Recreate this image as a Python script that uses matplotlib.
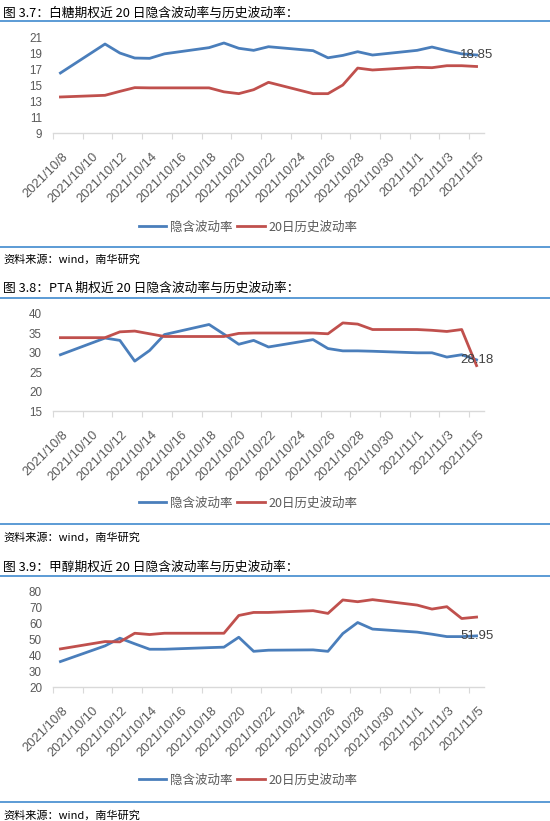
import matplotlib
matplotlib.use("Agg")
import matplotlib.pyplot as plt
import matplotlib.dates as mdates
import matplotlib.transforms as mtransforms
from matplotlib.lines import Line2D
import pandas as pd

plt.rcParams['font.family'] = ['Liberation Sans', 'Noto Sans CJK SC', 'DejaVu Sans']

dates = ["2021-10-08", "2021-10-11", "2021-10-12", "2021-10-13", "2021-10-14",
         "2021-10-15", "2021-10-18", "2021-10-19", "2021-10-20", "2021-10-21",
         "2021-10-22", "2021-10-25", "2021-10-26", "2021-10-27", "2021-10-28",
         "2021-10-29", "2021-11-01", "2021-11-02", "2021-11-03", "2021-11-04",
         "2021-11-05"]

sugar_iv = [16.58, 20.24, 19.1, 18.47, 18.43, 19.0, 19.78, 20.37, 19.7, 19.44,
            19.9, 19.4, 18.5, 18.8, 19.27, 18.85, 19.44, 19.86, 19.4, 19.0, 18.85]
sugar_hv = [13.55, 13.76, 14.26, 14.73, 14.7, 14.7, 14.7, 14.2, 13.97, 14.47,
            15.4, 13.97, 13.97, 15.06, 17.2, 16.96, 17.3, 17.25, 17.5, 17.5, 17.4]

pta_iv = [29.5, 33.8, 33.2, 27.85, 30.6, 34.7, 37.3, 34.8, 32.2, 33.2,
          31.5, 33.4, 31.1, 30.5, 30.5, 30.4, 30.0, 30.0, 28.9, 29.5, 28.18]
pta_hv = [33.9, 33.9, 35.4, 35.6, 34.9, 34.2, 34.2, 34.2, 35.0, 35.1,
          35.1, 35.1, 34.9, 37.7, 37.4, 36.0, 36.0, 35.8, 35.5, 36.0, 26.7]

meoh_iv = [35.9, 45.7, 50.5, 47.0, 43.6, 43.6, 44.6, 44.9, 51.1, 42.3,
           43.0, 43.2, 42.3, 53.4, 60.3, 56.2, 54.3, 53.0, 51.5, 51.5, 51.95]
meoh_hv = [43.8, 48.4, 48.2, 53.6, 52.8, 53.6, 53.6, 53.6, 64.7, 66.6,
           66.6, 67.7, 66.0, 74.4, 73.3, 74.6, 71.2, 68.7, 70.2, 62.8, 63.7]

titles = ["图 3.7：白糖期权近 20 日隐含波动率与历史波动率：",
          "图 3.8：PTA 期权近 20 日隐含波动率与历史波动率：",
          "图 3.9：甲醇期权近 20 日隐含波动率与历史波动率："]
source = "资料来源：wind，南华研究"
legend_labels = ["隐含波动率", "20日历史波动率"]
yticks_list = [[9, 11, 13, 15, 17, 19, 21], [15, 20, 25, 30, 35, 40],
               [20, 30, 40, 50, 60, 70, 80]]
last_labels = ["18.85", "28.18", "51.95"]

series = [(sugar_iv, sugar_hv), (pta_iv, pta_hv), (meoh_iv, meoh_hv)]

W, H = 550, 821
fig = plt.figure(figsize=(W / 100, H / 100), dpi=100)
fig.patch.set_facecolor("white")

BLUE = "#4A7EBB"
RED = "#C0504D"
RULE = "#5B9BD5"
GRAY = "#595959"
CJK = ['Noto Sans CJK SC', 'DejaVu Sans']

x = pd.to_datetime(dates) + pd.Timedelta(hours=12)
xmin = pd.Timestamp("2021-10-08")
xmax = pd.Timestamp("2021-11-06")
ticks = pd.date_range("2021-10-08", "2021-11-05", freq="2D")

layout = [
    dict(title=13, rule1=21, top=38, bottom=133, legend=227, rule2=247, src=259),
    dict(title=288, rule1=298, top=314, bottom=411, legend=503, rule2=524, src=537),
    dict(title=567, rule1=576, top=591, bottom=687, legend=780, rule2=802, src=815),
]

def fy(py):
    return 1 - py / H

shift = mtransforms.ScaledTranslation(0.09, -0.09, fig.dpi_scale_trans)

for i, L in enumerate(layout):
    iv, hv = series[i]
    fig.text(3 / W, fy(L["title"]), titles[i], family=CJK, fontsize=9.2,
             color="black", va="center", ha="left", fontweight="medium")
    fig.add_artist(Line2D([0, 1], [fy(L["rule1"])] * 2, color=RULE, lw=1.4,
                          transform=fig.transFigure))
    fig.add_artist(Line2D([0, 1], [fy(L["rule2"])] * 2, color=RULE, lw=1.4,
                          transform=fig.transFigure))
    fig.text(3 / W, fy(L["src"]), source, family=CJK, fontsize=8,
             color="black", va="center", ha="left")

    ax = fig.add_axes([53 / W, fy(L["bottom"]), (484 - 53) / W,
                       (L["bottom"] - L["top"]) / H])
    l1, = ax.plot(x, iv, color=BLUE, lw=2.0, solid_joinstyle="round")
    l2, = ax.plot(x, hv, color=RED, lw=2.0, solid_joinstyle="round")
    yt = yticks_list[i]
    ax.set_ylim(yt[0], yt[-1])
    ax.set_yticks(yt)
    ax.set_xlim(xmin, xmax)
    ax.set_xticks(ticks)
    ax.xaxis.set_major_formatter(mdates.DateFormatter("%Y/%-m/%-d"))
    for s in ["top", "right", "left"]:
        ax.spines[s].set_visible(False)
    ax.spines["bottom"].set_color("#D9D9D9")
    ax.spines["bottom"].set_linewidth(1.0)
    ax.tick_params(axis="y", length=0, labelsize=8.4, labelcolor=GRAY, pad=8)
    ax.tick_params(axis="x", length=4, color="#D9D9D9", labelsize=9.3,
                   labelcolor=GRAY, pad=2)
    for lab in ax.get_xticklabels():
        lab.set_rotation(45)
        lab.set_ha("right")
        lab.set_rotation_mode("anchor")
        lab.set_transform(lab.get_transform() + shift)
    ax.text(x[-1], iv[-1], last_labels[i], fontsize=9.5, color="#404040",
            ha="center", va="center")
    fig.legend([l1, l2], legend_labels, loc="center",
               bbox_to_anchor=(248 / W, fy(L["legend"])), ncol=2, frameon=False,
               prop=dict(family=CJK, size=9), labelcolor=GRAY,
               handlelength=2.2, handletextpad=0.3, columnspacing=0.4,
               borderaxespad=0)

fig.savefig("out.png", dpi=100, facecolor="white")
